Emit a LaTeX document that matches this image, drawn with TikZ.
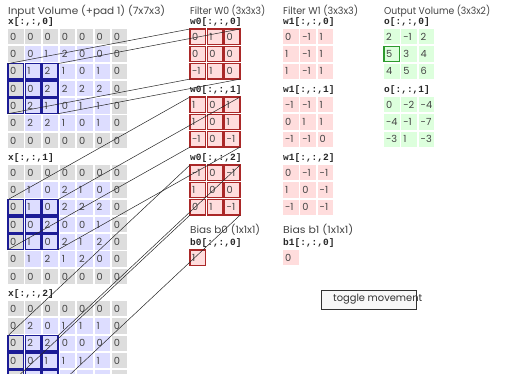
\documentclass[tikz,border=0pt]{standalone}
\usepackage{fontspec}
\usepackage{graphicx}
\setmainfont{Poppins}
\newfontfamily\monof{Liberation Mono}
\usetikzlibrary{calc}
\definecolor{padgray}{HTML}{DDDDDD}
\definecolor{inblue}{HTML}{DDDDFF}
\definecolor{hiblue}{HTML}{1C1C96}
\definecolor{wred}{HTML}{FFDDDD}
\definecolor{hired}{HTML}{AA2828}
\definecolor{ogreen}{HTML}{DDFFDD}
\definecolor{higreen}{HTML}{2E9A2E}
\definecolor{txt}{HTML}{444444}
\definecolor{btnfill}{HTML}{F8F8F8}
\definecolor{btnedge}{HTML}{333333}
\tikzset{
  cellbox/.style={minimum width=15.5pt, minimum height=15.5pt, inner xsep=2pt, inner ysep=0pt, outer sep=0pt, anchor=north west, font=\fontsize{9.8}{10}\selectfont, text=txt},
  title/.style={anchor=west, inner sep=0pt, font=\fontsize{10}{11}\selectfont, text=txt},
  slicelab/.style={anchor=west, inner sep=0pt, font=\monof\bfseries\fontsize{9.5}{10}\selectfont, text=black!85},
  link/.style={draw=black!85, line width=0.5pt},
  hig/.style={draw=higreen, line width=1.4pt},
  btnbox/.style={draw=btnedge, fill=btnfill, line width=1.2pt, minimum width=95pt, minimum height=19pt, inner sep=0pt, anchor=north west},
}
\newcommand\fitw[2]{\resizebox{#1pt}{\height}{#2}}
\newcommand\cv[1]{\makebox[11.5pt][l]{#1}}
\newcommand\pp{17.3}
\newcommand\inslice[2]{%
  \node[slicelab] (xl#1) at (8,{22+136*#1}) {x[:,:,#1]};
  \foreach \row [count=\i from 0] in {#2} {
    \foreach \v [count=\j from 0] in \row {
      \pgfmathtruncatemacro\pad{(\i==0)||(\i==6)||(\j==0)||(\j==6)}
      \pgfmathtruncatemacro\hl{(\i>=2)&&(\i<=4)&&(\j<=2)}
      \ifnum\pad=1 \def\fc{padgray}\else\def\fc{inblue}\fi
      \ifnum\hl=1 \def\dc{hiblue}\else\def\dc{none}\fi
      \node[cellbox, fill=\fc, draw=\dc, line width=1.4pt] (in#1-\i-\j) at ({8+\pp*\j},{29+136*#1+\pp*\i}) {\cv{\v}};
    }
  }
}
\newcommand\wslice[6]{% prefix, x0, slice, data, fill, draw
  \node[slicelab] (#1l#3) at (#2,{22+68*#3}) {#1[:,:,#3]};
  \foreach \row [count=\i from 0] in {#4} {
    \foreach \v [count=\j from 0] in \row {
      \node[cellbox, fill=#5, draw=#6, line width=1.4pt] (#1s#3-\i-\j) at ({#2+\pp*\j},{29+68*#3+\pp*\i}) {\cv{\v}};
    }
  }
}
\begin{document}
\begin{tikzpicture}[x=1pt,y=-1pt]
\useasboundingbox (0,0) rectangle (512,387);
\fill[white] (0,0) rectangle (512,387);
\begin{scope}
\clip (0,0) rectangle (512,374);
\node[title] (tin) at (8,11) {\fitw{157}{Input Volume (+pad 1) (7x7x3)}};
\node[title] (tw0) at (190,11) {\fitw{75}{Filter W0 (3x3x3)}};
\node[title] (tw1) at (283,11) {\fitw{75}{Filter W1 (3x3x3)}};
\node[title] (tout) at (384,11) {\fitw{106}{Output Volume (3x3x2)}};

\inslice{0}{{0,0,0,0,0,0,0},{0,0,1,2,0,0,0},{0,1,2,1,0,1,0},{0,0,2,2,2,2,0},{0,2,1,0,1,1,0},{0,2,2,1,0,1,0},{0,0,0,0,0,0,0}}
\inslice{1}{{0,0,0,0,0,0,0},{0,1,0,2,1,0,0},{0,1,0,2,2,2,0},{0,0,2,0,0,1,0},{0,1,0,2,1,2,0},{0,1,2,1,2,0,0},{0,0,0,0,0,0,0}}
\inslice{2}{{0,0,0,0,0,0,0},{0,2,0,1,1,1,0},{0,2,2,0,0,0,0},{0,0,1,1,1,1,0},{\phantom{0},\phantom{0},\phantom{0},\phantom{0},\phantom{0},\phantom{0},\phantom{0}}}

\wslice{w0}{190}{0}{{0,1,0},{0,0,0},{-1,1,0}}{wred}{hired}
\wslice{w0}{190}{1}{{1,0,1},{1,0,1},{-1,0,-1}}{wred}{hired}
\wslice{w0}{190}{2}{{-1,0,-1},{1,0,0},{0,1,-1}}{wred}{hired}
\wslice{w1}{283}{0}{{0,-1,1},{1,-1,1},{1,-1,1}}{wred}{none}
\wslice{w1}{283}{1}{{-1,-1,1},{0,1,1},{-1,-1,0}}{wred}{none}
\wslice{w1}{283}{2}{{0,-1,-1},{1,0,-1},{-1,0,-1}}{wred}{none}
\wslice{o}{384}{0}{{2,-1,2},{5,3,4},{4,5,6}}{ogreen}{none}
\wslice{o}{384}{1}{{0,-2,-4},{-4,-1,-7},{-3,1,-3}}{ogreen}{none}
\draw[hig] (os0-1-0.north west) rectangle (os0-1-0.south east);

\node[title] (tb0) at (190,230) {\fitw{70}{Bias b0 (1x1x1)}};
\node[slicelab] (b0l) at (190,243) {b0[:,:,0]};
\node[cellbox, fill=wred, draw=hired, line width=1.4pt] (b0c) at (190,250) {\cv{1}};
\node[title] (tb1) at (283,230) {\fitw{70}{Bias b1 (1x1x1)}};
\node[slicelab] (b1l) at (283,243) {b1[:,:,0]};
\node[cellbox, fill=wred] (b1c) at (283,250) {\cv{0}};

\node[btnbox] (btn) at (321,290) {};
\node[title, text=btnedge] (btnlab) at (333,299.5) {\fitw{89}{toggle movement}};

\foreach \d in {0,1,2} {
  \draw[link] (in\d-2-0.north west) -- (w0s\d-0-0.north west);
  \draw[link] (in\d-2-2.north east) -- (w0s\d-0-2.north east);
  \draw[link] (in\d-4-0.south west) -- (w0s\d-2-0.south west);
  \draw[link] (in\d-4-2.south east) -- (w0s\d-2-2.south east);
}
\end{scope}
\end{tikzpicture}
\end{document}
